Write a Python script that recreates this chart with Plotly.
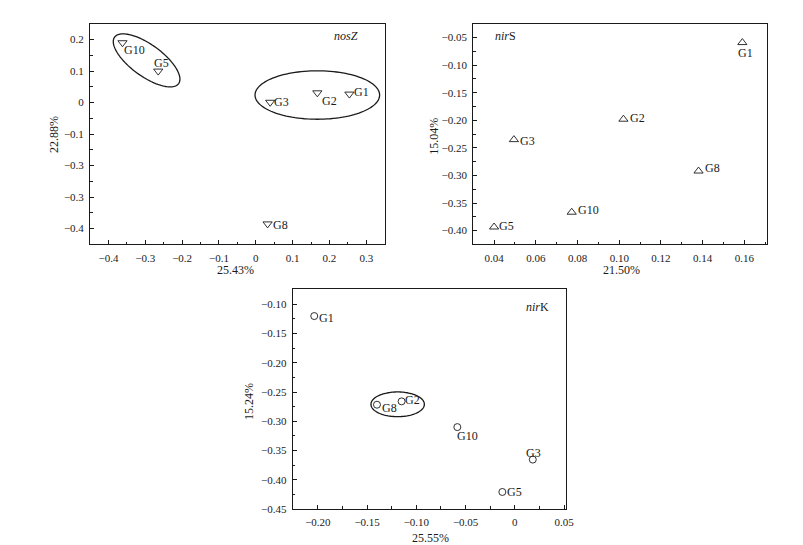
import numpy as np
import plotly.graph_objects as go

W, H = 803, 545
FONT = "Liberation Serif"
INK = "#1a1a1a"

# ---------------- data ----------------
nosz_labels = ["G1", "G2", "G3", "G5", "G8", "G10"]
nosz_x = [0.254, 0.167, 0.039, -0.265, 0.032, -0.362]
nosz_y = [0.027, 0.031, 0.001, 0.100, -0.385, 0.190]

nirs_labels = ["G1", "G2", "G3", "G5", "G8", "G10"]
nirs_x = [0.159, 0.102, 0.0495, 0.040, 0.138, 0.0772]
nirs_y = [-0.059, -0.198, -0.235, -0.3935, -0.292, -0.3667]

nirk_labels = ["G1", "G2", "G3", "G5", "G8", "G10"]
nirk_x = [-0.2037, -0.115, 0.0182, -0.0127, -0.140, -0.0584]
nirk_y = [-0.120, -0.266, -0.3656, -0.421, -0.2717, -0.310]

nosz_xticks = [-0.4, -0.3, -0.2, -0.1, 0, 0.1, 0.2, 0.3]
nosz_xticktext = ["−0.4", "−0.3", "−0.2", "−0.1", "0", "0.1", "0.2", "0.3"]
nosz_yticks = [0.2, 0.1, 0, -0.1, -0.2, -0.3, -0.4]
nosz_yticktext = ["0.2", "0.1", "0", "−0.1", "−0.3", "−0.3", "−0.4"]

nirs_xticks = [0.04, 0.06, 0.08, 0.10, 0.12, 0.14, 0.16]
nirs_xticktext = ["0.04", "0.06", "0.08", "0.10", "0.12", "0.14", "0.16"]
nirs_yticks = [-0.05, -0.10, -0.15, -0.20, -0.25, -0.30, -0.35, -0.40]
nirs_yticktext = ["−0.05", "−0.10", "−0.15", "−0.20", "−0.25", "−0.30", "−0.35", "−0.40"]

nirk_xticks = [-0.20, -0.15, -0.10, -0.05, 0, 0.05]
nirk_xticktext = ["−0.20", "−0.15", "−0.10", "−0.05", "0", "0.05"]
nirk_yticks = [-0.10, -0.15, -0.20, -0.25, -0.30, -0.35, -0.40, -0.45]
nirk_yticktext = ["−0.10", "−0.15", "−0.20", "−0.25", "−0.30", "−0.35", "−0.40", "−0.45"]

# ---------------- styling: label offsets in pixels (dx right, dy down) ----------------
nosz_label_offsets = [(12, -2), (12, 8), (11, 0), (3, -8), (13, 1), (12.5, 7.5)]
nirs_label_offsets = [(3, 10), (14, -1), (14, 1), (12, -1), (14, -3), (17, -2)]
nirk_label_offsets = [(12, 1.5), (11, -1.5), (1, -7), (12, 0), (13, 3), (10, 9)]

# ---------------- layout geometry ----------------
panels = {
    "1": dict(xd=[83 / W, 381 / W], yd=[1 - 239 / H, 1 - 16 / H], xr=[-0.45, 0.35], yr=[-0.45, 0.25]),
    "2": dict(xd=[470.5 / W, 768 / W], yd=[1 - 239 / H, 1 - 16 / H], xr=[0.03, 0.171], yr=[-0.425, -0.025]),
    "3": dict(xd=[288 / W, 564 / W], yd=[1 - 506.5 / H, 1 - 284 / H], xr=[-0.2255, 0.0516], yr=[-0.45, -0.0735]),
}


def px_per_unit(p):
    sx = (p["xd"][1] - p["xd"][0]) * W / (p["xr"][1] - p["xr"][0])
    sy = (p["yd"][1] - p["yd"][0]) * H / (p["yr"][1] - p["yr"][0])
    return sx, sy


# ellipses: (panel, center x, center y, semi-axis a px, semi-axis b px, angle deg clockwise on screen)
ellipses = [
    ("1", -0.2965, 0.134, 40, 16, 36),
    ("1", 0.167, 0.024, 63, 24.5, 0),
    ("3", -0.119, -0.271, 27, 12.5, 0),
]

fig = go.Figure()

series = [
    ("1", nosz_x, nosz_y, nosz_labels, nosz_label_offsets, "triangle-down-open", 8),
    ("2", nirs_x, nirs_y, nirs_labels, nirs_label_offsets, "triangle-up-open", 8),
    ("3", nirk_x, nirk_y, nirk_labels, nirk_label_offsets, "circle-open", 7),
]
for key, xs, ys, labs, offs, sym, size in series:
    suffix = "" if key == "1" else key
    fig.add_trace(go.Scatter(
        x=xs, y=ys, mode="markers",
        marker=dict(symbol=sym, size=size, color=INK, line=dict(width=0.9, color=INK)),
        xaxis="x" + suffix, yaxis="y" + suffix, showlegend=False, cliponaxis=False,
        hovertext=labs,
    ))
    for xv, yv, lab, (dx, dy) in zip(xs, ys, labs, offs):
        fig.add_annotation(x=xv, y=yv, xref="x" + suffix, yref="y" + suffix, text=lab,
                           showarrow=False, xanchor="center", yanchor="middle",
                           xshift=dx, yshift=-dy,
                           font=dict(family=FONT, size=12, color=INK))

ticks_info = {
    "1": (nosz_xticks, nosz_xticktext, nosz_yticks, nosz_yticktext, 0.05, 0.05),
    "2": (nirs_xticks, nirs_xticktext, nirs_yticks, nirs_yticktext, 0.01, 0.025),
    "3": (nirk_xticks, nirk_xticktext, nirk_yticks, nirk_yticktext, 0.025, 0.025),
}

layout = dict(
    width=W, height=H, margin=dict(l=0, r=0, t=0, b=0),
    paper_bgcolor="white", plot_bgcolor="white",
    font=dict(family=FONT, size=11, color=INK),
    showlegend=False,
)
for key, p in panels.items():
    suffix = "" if key == "1" else key
    xt, xtt, yt, ytt, xminor, yminor = ticks_info[key]
    common = dict(showgrid=False, zeroline=False, showline=True, linecolor=INK, linewidth=1,
                  mirror=True, ticks="inside", ticklen=4, tickwidth=1, tickcolor=INK,
                  tickfont=dict(family=FONT, size=11, color=INK), ticklabelstandoff=3)
    layout["xaxis" + suffix] = dict(
        common, domain=p["xd"], range=p["xr"], anchor="y" + suffix,
        tickmode="array", tickvals=xt, ticktext=xtt,
        minor=dict(ticks="inside", ticklen=2.5, tickwidth=1, tickcolor=INK, dtick=xminor, tick0=0, showgrid=False),
    )
    layout["yaxis" + suffix] = dict(
        common, domain=p["yd"], range=p["yr"], anchor="x" + suffix,
        tickmode="array", tickvals=yt, ticktext=ytt,
        minor=dict(ticks="inside", ticklen=2.5, tickwidth=1, tickcolor=INK, dtick=yminor, tick0=0, showgrid=False),
    )
fig.update_layout(**layout)

# ellipse shapes
t = np.linspace(0, 2 * np.pi, 121)
for key, cx, cy, a, b, ang in ellipses:
    sx, sy = px_per_unit(panels[key])
    th = np.deg2rad(ang)
    u = a * np.cos(t)
    v = b * np.sin(t)
    dx = u * np.cos(th) - v * np.sin(th)
    dy = u * np.sin(th) + v * np.cos(th)  # screen-down positive
    xs = cx + dx / sx
    ys = cy - dy / sy
    path = "M " + " L ".join(f"{x:.5f},{y:.5f}" for x, y in zip(xs, ys)) + " Z"
    suffix = "" if key == "1" else key
    fig.add_shape(type="path", path=path, xref="x" + suffix, yref="y" + suffix,
                  line=dict(color=INK, width=1.3), fillcolor="rgba(0,0,0,0)")

# gene labels and axis titles
annos = [
    dict(x=342 / W, y=1 - 28 / H, text="<i>nosZ</i>"),
    dict(x=503 / W, y=1 - 28 / H, text="<i>nir</i>S"),
    dict(x=535 / W, y=1 - 302 / H, text="<i>nir</i>K"),
    dict(x=230 / W, y=1 - 265 / H, text="25.43%"),
    dict(x=620 / W, y=1 - 265 / H, text="21.50%"),
    dict(x=427 / W, y=1 - 536 / H, text="25.55%"),
    dict(x=46 / W, y=1 - 128 / H, text="22.88%", textangle=-90),
    dict(x=430 / W, y=1 - 130 / H, text="15.04%", textangle=-90),
    dict(x=243 / W, y=1 - 398 / H, text="15.24%", textangle=-90),
]
for an in annos:
    fig.add_annotation(xref="paper", yref="paper", showarrow=False, xanchor="center", yanchor="middle",
                       font=dict(family=FONT, size=12, color=INK), **an)

fig.write_html("out.html")
